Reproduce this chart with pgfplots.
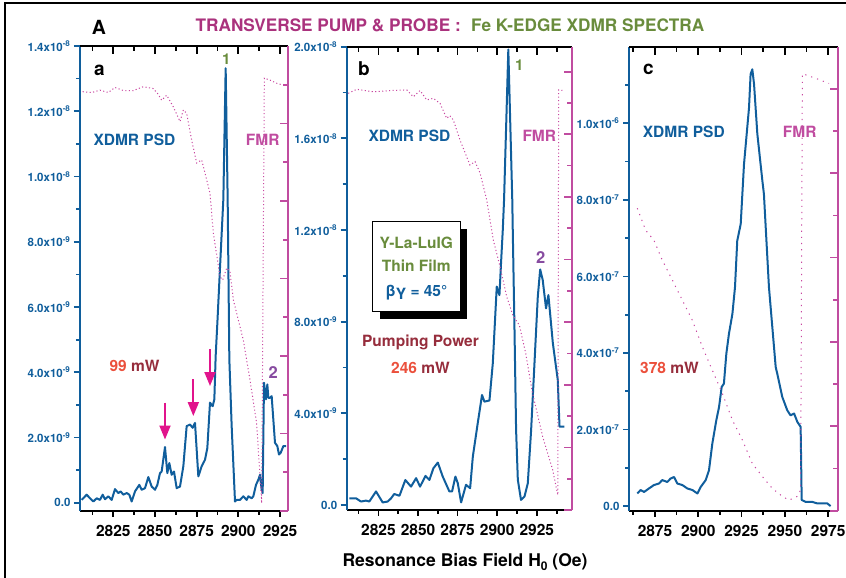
\documentclass[border=0pt]{standalone}
\usepackage{fontspec}
\setmainfont{TeX Gyre Heros}
\usepackage{pgfplots}
\pgfplotsset{compat=1.18}
\usetikzlibrary{arrows.meta}

\definecolor{cblue}{RGB}{16,94,156}
\definecolor{cmag}{RGB}{192,76,160}
\definecolor{cfmr}{RGB}{200,70,160}
\definecolor{cpink}{RGB}{225,20,140}
\definecolor{ctitle}{RGB}{170,50,125}
\definecolor{cgreen}{RGB}{105,140,60}
\definecolor{cpurple}{RGB}{135,75,160}
\definecolor{cred}{RGB}{235,80,60}
\definecolor{cdark}{RGB}{150,45,60}

\pgfplotsset{
  psd/.style={
    scale only axis, anchor=south west,
    axis x line*=bottom, axis y line*=left,
    axis line style={-, line width=2pt},
    x axis line style={black}, y axis line style={cblue},
    tick align=outside, major tick length=6pt, minor tick length=4pt,
    x tick style={black, line width=1.7pt}, y tick style={cblue, line width=1.7pt},
    xticklabel style={font=\fontsize{15.5}{16}\selectfont\bfseries, text=black, yshift=-5pt},
    yticklabel style={font=\fontsize{11.5}{12}\selectfont\bfseries, text=cblue},
  },
  fmr/.style={
    scale only axis, anchor=south west,
    axis x line*=top, axis y line*=right,
    axis line style={-, line width=2pt},
    x axis line style={black}, y axis line style={cmag},
    tick align=inside, major tick length=8pt, minor tick length=5pt,
    x tick style={black, line width=1.7pt}, y tick style={cmag, line width=1.7pt},
    xticklabels={}, yticklabels={},
  },
  psdline/.style={cblue, line width=2pt, line join=round},
  fmrline/.style={cfmr, line width=1pt, dash pattern=on 1.1pt off 2.4pt},
}

\newcommand{\tl}[2]{#1x10\textsuperscript{#2}}

\begin{document}
\begin{tikzpicture}[x=1pt,y=1pt]
\useasboundingbox (0,0) rectangle (846,578);
\draw[line width=1.5pt] (5,0) -- (5,575) -- (846,575);

% ---------------- panel a
\begin{axis}[psd, at={(80pt,67pt)}, width=208pt, height=465pt,
  xmin=2805, xmax=2929.8, ymin=-0.25, ymax=14,
  xtick={2825,2850,2875,2900,2925}, xticklabels={2825,2850,2875,2900,2925},
  minor xtick={2812.5,2837.5,2862.5,2887.5,2912.5},
  ytick={0,2,4,6,8,10,12,14},
  yticklabels={0.0,\tl{2.0}{-9},\tl{4.0}{-9},\tl{6.0}{-9},\tl{8.0}{-9},\tl{1.0}{-8},\tl{1.2}{-8},\tl{1.4}{-8}},
  minor ytick={1,3,5,7,9,11,13}]
\addplot[psdline] table {
2806 0.09
2809 0.25
2811 0.14
2813 0.04
2815 0.14
2817 0.09
2818.6 0.25
2820 0.11
2822 0.20
2824 0.09
2826 0.42
2828 0.30
2829.4 0.35
2831 0.25
2833 0.30
2834.6 0.25
2836 0.04
2838 0.35
2840.6 0.55
2842 0.40
2844 0.45
2846 0.79
2848 0.50
2850 0.40
2851.4 0.55
2853 0.91
2854 0.96
2856 1.71
2857.4 0.91
2858.6 1.22
2860 0.86
2861.4 0.96
2863 0.45
2865 0.50
2867 1.12
2869 2.35
2871 2.40
2872.6 2.30
2874 2.45
2876 0.81
2878 1.12
2880 1.32
2881.4 1.68
2883 3.07
2884.6 2.96
2885.6 3.17
2886.4 4.5
2887.5 5.6
2889 7.2
2891 9.3
2892.4 13.32
2893.6 9.3
2894.6 4.4
2896 2.35
2898 0.04
2899 0.09
2901 0.09
2903 0.20
2905 0.09
2906 0.20
2908 0.14
2909 0.20
2910.6 0.55
2912 0.71
2913 0.86
2914 0.40
2914.6 0.30
2915.4 3.68
2916.6 3.17
2917.4 3.63
2918 3.22
2919 3.22
2920 3.27
2921 2.55
2922 1.84
2923.4 1.74
2924.4 1.48
2925.4 1.53
2927 1.74
2928.6 1.74
};
\draw[-{Triangle[length=14pt,width=11pt]}, line width=1.9pt, cpink] (axis cs:2856,3.07) -- (axis cs:2856,1.94);
\draw[-{Triangle[length=14pt,width=11pt]}, line width=1.9pt, cpink] (axis cs:2873,3.78) -- (axis cs:2873,2.66);
\draw[-{Triangle[length=14pt,width=11pt]}, line width=1.9pt, cpink] (axis cs:2883,4.71) -- (axis cs:2883,3.58);
\end{axis}
\begin{axis}[fmr, at={(80pt,67pt)}, width=208pt, height=465pt,
  xmin=2805, xmax=2929.8, ymin=0, ymax=12,
  xtick={2825,2850,2875,2900,2925}, minor xtick={2812.5,2837.5,2862.5,2887.5,2912.5},
  ytick={0,2,...,12}, minor ytick={1,3,...,11}]
\addplot[fmrline] table {
2806.6 10.82
2812 10.80
2817 10.86
2822 10.80
2826 10.93
2831 10.85
2837 10.85
2843 10.95
2849 10.90
2852 10.75
2854 10.60
2857 10.73
2861 10.43
2865 10.05
2867 10.35
2869 10.26
2872 9.57
2875 8.98
2878 9.06
2880 8.72
2883 8.20
2885 7.17
2889 6.05
2890.6 5.96
2893 6.27
2895 6.18
2897 5.45
2903 4.41
2907 3.38
2911 2.26
2914 0.20
2915.6 11.17
2919 11.12
2923 11.04
2926 11.00
2929 11.00
};
\end{axis}

% ---------------- panel b
\begin{axis}[psd, at={(346.7pt,68pt)}, width=225pt, height=463.3pt,
  xmin=2805, xmax=2947, ymin=-0.22, ymax=20,
  xtick={2825,2850,2875,2900,2925}, xticklabels={2825,2850,2875,2900,2925},
  minor xtick={2812.5,2837.5,2862.5,2887.5,2912.5,2937.5},
  ytick={0,4,8,12,16,20},
  yticklabels={0.0,\tl{4.0}{-9},\tl{8.0}{-9},\tl{1.2}{-8},\tl{1.6}{-8},\tl{2.0}{-8}},
  minor ytick={2,6,10,14,18}]
\addplot[psdline] table {
2806.7 0.29
2810.9 0.29
2814 0.15
2817.2 0.19
2819.3 0.15
2823.5 0.59
2827.7 0.11
2830.9 0.15
2833 0.29
2835 0.48
2838.3 0.40
2842 1.09
2845.6 0.80
2848.8 1.17
2851.3 0.80
2854.7 1.27
2857.2 1.09
2859.7 1.60
2862.5 1.85
2865.6 1.24
2869.8 0.59
2871.5 0.59
2873.6 1.24
2875.1 0.95
2877.2 0.11
2880.3 0.88
2882.9 0.73
2884.6 2.11
2887.7 3.57
2890.4 4.80
2891.9 4.51
2895.1 4.56
2897.2 6.18
2899.7 9.53
2901.4 9.16
2902.4 10.55
2903.5 12.0
2904.3 13.3
2907 19.88
2909.5 13.3
2909.8 12.0
2910.9 7.64
2911.9 3.28
2913 1.10
2915 0.22
2917.2 0.37
2919.3 0.95
2921.4 3.28
2923.5 6.18
2925.6 9.09
2927.1 10.28
2928.7 9.82
2930.8 8.58
2932.3 9.16
2935.1 7.06
2938.2 5.46
2939.3 3.42
2942.4 3.42
};
\end{axis}
\begin{axis}[fmr, at={(346.7pt,68pt)}, width=225pt, height=463.3pt,
  xmin=2805, xmax=2947, ymin=0, ymax=14.8,
  xtick={2825,2850,2875,2900,2925}, minor xtick={2812.5,2837.5,2862.5,2887.5,2912.5,2937.5},
  ytick={0,2,...,14}, minor ytick={1,3,...,13}]
\addplot[fmrline] table {
2806 13.31
2811.3 13.44
2821.8 13.36
2832.3 13.40
2842.9 13.42
2847 13.20
2851.3 13.40
2855.5 13.10
2859.7 13.15
2863.9 12.99
2868.1 12.51
2870 12.60
2872.3 12.46
2876.5 11.82
2882.8 11.02
2886 11.13
2889.2 10.76
2892.3 10.12
2893.4 9.90
2897.5 8.63
2901.8 7.77
2906 6.81
2910 6.20
2914 5.90
2918 5.00
2922 3.80
2928.7 2.34
2935 1.28
2938.2 0.48
2938.8 13.42
2941.7 13.40
};
\end{axis}

% ---------------- panel c
\begin{axis}[psd, at={(629pt,67.3pt)}, width=208.7pt, height=464pt,
  xmin=2860, xmax=2980.5, ymin=-0.12, ymax=12,
  xtick={2875,2900,2925,2950,2975}, xticklabels={2875,2900,2925,2950,2975},
  minor xtick={2862.5,2887.5,2912.5,2937.5,2962.5},
  ytick={0,2,4,6,8,10},
  yticklabels={0.0,\tl{2.0}{-7},\tl{4.0}{-7},\tl{6.0}{-7},\tl{8.0}{-7},\tl{1.0}{-6}},
  minor ytick={1,3,5,7,9,11}]
\addplot[psdline] table {
2864.8 0.33
2866.7 0.42
2868.7 0.37
2871.5 0.46
2874.4 0.55
2877.3 0.59
2879.2 0.68
2882.1 0.63
2884 0.72
2886 0.76
2887.9 0.59
2890.8 0.55
2893.7 0.46
2896.6 0.42
2899.5 0.33
2901.4 0.50
2904.3 0.68
2906.2 0.94
2908.1 1.63
2910.4 2.24
2912 2.59
2913.5 3.11
2914.8 3.20
2916.2 3.98
2917.7 4.50
2919.7 5.02
2921.2 5.72
2922.5 6.93
2924.5 7.37
2926.4 8.93
2929.3 10.41
2930.2 11.28
2931.2 11.41
2932.2 11.02
2934.1 9.72
2937 8.50
2937.9 8.15
2940.8 5.72
2944.7 3.63
2945.6 3.46
2948.5 2.85
2951.4 2.50
2953.3 2.37
2955.3 2.42
2957.2 2.20
2959.1 2.07
2959.7 0.16
2962 0.11
2965.8 0.11
2968.7 0.07
2971.6 0.07
2974.5 0.07
2976.4 0.00
};
\end{axis}
\begin{axis}[fmr, at={(629pt,67.3pt)}, width=208.7pt, height=464pt,
  xmin=2860, xmax=2980.5, ymin=0, ymax=11,
  xtick={2875,2900,2925,2950,2975}, minor xtick={2862.5,2887.5,2912.5,2937.5,2962.5},
  ytick={0,2,...,10}, minor ytick={1,3,...,11},
  fmrline/.append style={dash pattern=on 1.2pt off 5pt}]
\addplot[fmrline] table {
2864.8 7.17
2869.6 6.65
2874.4 6.41
2879.2 5.94
2885 5.47
2890.8 4.99
2896.5 4.52
2902.3 3.89
2908.1 3.33
2913.9 2.78
2919.7 2.15
2925.4 1.68
2931.2 1.12
2937 0.81
2942.7 0.53
2948.5 0.34
2952.4 0.25
2957.2 0.34
2959.1 0.49
2960.1 10.36
2967.8 10.25
2975.5 10.13
};
\end{axis}

% ---------------- texts
\bfseries
\node[anchor=base west, inner sep=0, font=\fontsize{19.5}{20}\selectfont\bfseries] at (91.7,543) {A};
\node[anchor=base, inner sep=0, font=\fontsize{17.2}{18}\selectfont\bfseries] at (450,546.3)
  {\textcolor{ctitle}{TRANSVERSE PUMP \& PROBE :}\hspace{0.6em}\textcolor{cgreen}{Fe K-EDGE XDMR SPECTRA}};
\node[anchor=base, inner sep=0, font=\fontsize{17.5}{18}\selectfont\bfseries] at (465,11.3)
  {Resonance Bias Field H\raisebox{-4pt}{\fontsize{12}{12}\selectfont 0} (Oe)};

\foreach \x/\y/\t in {94/502/a, 358/502/b, 643/503/c}
  \node[anchor=base west, inner sep=0, font=\fontsize{19}{20}\selectfont\bfseries] at (\x,\y) {\t};

\foreach \x/\y in {93.3/432, 368.3/436.3, 642.7/440.7}
  \node[anchor=base west, inner sep=0, text=cblue, font=\fontsize{15.5}{16}\selectfont\bfseries] at (\x,\y) {XDMR PSD};
\foreach \x/\y in {245.7/432, 522.3/436.3, 782.7/440.7}
  \node[anchor=base west, inner sep=0, text=cmag, font=\fontsize{15.5}{16}\selectfont\bfseries] at (\x,\y) {FMR};

\node[anchor=base west, inner sep=0, text=cgreen, font=\fontsize{15}{16}\selectfont\bfseries] at (222,513) {1};
\node[anchor=base west, inner sep=0, text=cgreen, font=\fontsize{15}{16}\selectfont\bfseries] at (515,507) {1};
\node[anchor=base west, inner sep=0, text=cpurple, font=\fontsize{16.5}{17}\selectfont\bfseries] at (268.5,199.7) {2};
\node[anchor=base west, inner sep=0, text=cpurple, font=\fontsize{16.5}{17}\selectfont\bfseries] at (536,314.7) {2};

\node[anchor=base west, inner sep=0, font=\fontsize{15.5}{16}\selectfont\bfseries] at (109.3,206.3) {\textcolor{cred}{99} \textcolor{cdark}{mW}};
\node[anchor=base, inner sep=0, text=cdark, font=\fontsize{15.5}{16}\selectfont\bfseries] at (420.5,231.3) {Pumping Power};
\node[anchor=base, inner sep=0, font=\fontsize{15.5}{16}\selectfont\bfseries] at (420.5,204.7) {\textcolor{cred}{246} \textcolor{cdark}{mW}};
\node[anchor=base west, inner sep=0, font=\fontsize{15.5}{16}\selectfont\bfseries] at (640,204.7) {\textcolor{cred}{378} \textcolor{cdark}{mW}};

\fill[black] (379.7,259.3) rectangle (467,349.3);
\draw[black, line width=1pt, fill=white] (372.7,266.3) rectangle (460,356.3);
\node[anchor=base, inner sep=0, text=cgreen, font=\fontsize{15.5}{16}\selectfont\bfseries] at (416.3,329.7) {Y-La-LuIG};
\node[anchor=base, inner sep=0, text=cgreen, font=\fontsize{15.5}{16}\selectfont\bfseries] at (416.3,306.3) {Thin Film};
\node[anchor=base, inner sep=0, text=cblue, font=\fontsize{15.5}{16}\selectfont\bfseries] at (416.3,281.3) {β\raisebox{-3pt}{Y} = 45°};
\end{tikzpicture}
\end{document}
